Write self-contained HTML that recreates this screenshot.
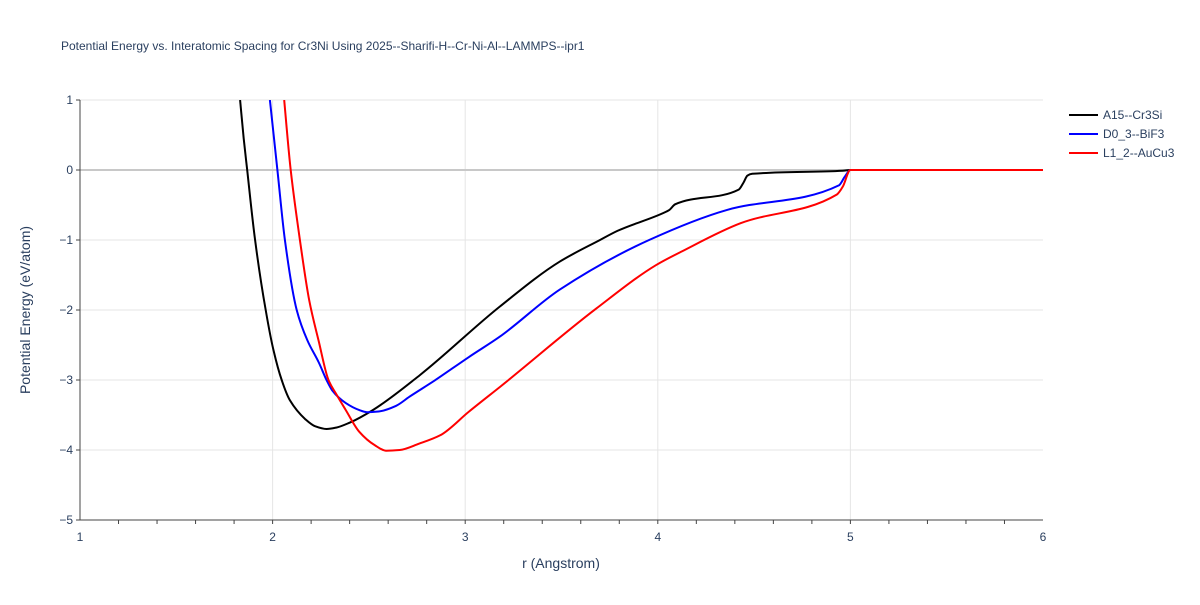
<!DOCTYPE html>
<html><head><meta charset="utf-8"><style>
body{margin:0;background:#fff;font-family:"Liberation Sans",sans-serif}
</style></head><body>
<svg id="chart" width="1200" height="600" xmlns="http://www.w3.org/2000/svg" style="font-family:'Liberation Sans',sans-serif">
<rect width="1200" height="600" fill="#fff"/>
<text x="61" y="50" font-size="12" fill="#2a3f5f">Potential Energy vs. Interatomic Spacing for Cr3Ni Using 2025--Sharifi-H--Cr-Ni-Al--LAMMPS--ipr1</text>
<g id="grid"></g><g id="axes"></g><g id="series"></g>
<text x="561" y="568" font-size="14" fill="#2a3f5f" text-anchor="middle">r (Angstrom)</text>
<text transform="translate(30,310) rotate(-90)" font-size="14" fill="#2a3f5f" text-anchor="middle">Potential Energy (eV/atom)</text>
<g id="legend"></g>
</svg>
<script>
const xTicks=[1,2,3,4,5,6];
const yTicks=[1,0,-1,-2,-3,-4,-5];
const seriesNames=["A15--Cr3Si","D0_3--BiF3","L1_2--AuCu3"];
const seriesColors=["#000000","#0000ff","#ff0000"];
const a15R=[1.831,1.85,1.868,1.909,1.964,2.005,2.047,2.09,2.17,2.22,2.28,2.33,2.40,2.52,2.765,3.18,3.49,3.70,3.79,4.04,4.06,4.09,4.42,4.445,4.465,4.49,4.96,5.0,5.5,6.0];
const a15E=[1,0.45,0,-1,-2,-2.58,-3,-3.29,-3.56,-3.66,-3.7,-3.68,-3.61,-3.43,-2.93,-1.95,-1.31,-1.0,-0.87,-0.6,-0.57,-0.49,-0.28,-0.18,-0.08,-0.055,-0.01,0,0,0];
const d03R=[1.986,2.025,2.064,2.125,2.18,2.24,2.28,2.31,2.38,2.45,2.49,2.55,2.64,2.71,2.84,3.02,3.18,3.49,3.955,4.36,4.94,4.97,5.0,5.5,6.0];
const d03E=[1,0,-1,-2,-2.43,-2.75,-3,-3.15,-3.33,-3.43,-3.46,-3.45,-3.37,-3.24,-3.01,-2.67,-2.38,-1.71,-1.0,-0.57,-0.22,-0.1,0,0,0];
const l12R=[2.06,2.094,2.142,2.19,2.24,2.29,2.33,2.38,2.45,2.53,2.59,2.66,2.76,2.87,3.02,3.18,3.68,3.99,4.12,4.43,4.93,4.96,5.0,5.5,6.0];
const l12E=[1,0,-1,-1.86,-2.45,-3,-3.2,-3.43,-3.74,-3.93,-4.01,-4.0,-3.91,-3.79,-3.45,-3.1,-1.98,-1.36,-1.17,-0.76,-0.35,-0.24,0,0,0];
const X=r=>80+(r-1)*192.6, Y=e=>170-e*70;
const NS="http://www.w3.org/2000/svg";
function mk(tag,attrs,parent){const el=document.createElementNS(NS,tag);for(const k in attrs)el.setAttribute(k,attrs[k]);parent.appendChild(el);return el;}
function monotone(p){
 const n=p.length,dx=[],s=[],m=[];
 for(let i=0;i<n-1;i++){dx[i]=p[i+1][0]-p[i][0];s[i]=(p[i+1][1]-p[i][1])/dx[i];}
 m[0]=s[0];m[n-1]=s[n-2];
 for(let i=1;i<n-1;i++){if(s[i-1]*s[i]<=0)m[i]=0;else{const w1=2*dx[i]+dx[i-1],w2=dx[i]+2*dx[i-1];m[i]=(w1+w2)/(w1/s[i-1]+w2/s[i]);}}
 let d='M'+p[0][0].toFixed(1)+','+p[0][1].toFixed(1);
 for(let i=0;i<n-1;i++){const h=dx[i]/3;
  d+=' C'+(p[i][0]+h).toFixed(1)+','+(p[i][1]+m[i]*h).toFixed(1)+' '+(p[i+1][0]-h).toFixed(1)+','+(p[i+1][1]-m[i+1]*h).toFixed(1)+' '+p[i+1][0].toFixed(1)+','+p[i+1][1].toFixed(1);}
 return d;}
const grid=document.getElementById('grid'),axes=document.getElementById('axes'),ser=document.getElementById('series'),leg=document.getElementById('legend');
xTicks.forEach(t=>{
 if(t>1&&t<6){const g=mk('line',{x1:X(t),x2:X(t),y1:100,y2:520,stroke:'#e5e5e5','stroke-width':1},grid);
 
 }
 const tx=mk('text',{x:X(t),y:541,'font-size':12,fill:'#2a3f5f','text-anchor':'middle'},axes);tx.textContent=t;
 
 
});
for(let r=1.2;r<6;r+=0.2){mk('line',{x1:X(r),x2:X(r),y1:520,y2:524,stroke:'#444'},axes);}
yTicks.forEach(t=>{
 const g=mk('line',{x1:80,x2:1043,y1:Y(t),y2:Y(t),stroke:t===0?'#c8c8c8':'#e5e5e5','stroke-width':t===0?2:1},grid);
 
 
 mk('line',{x1:76,x2:80,y1:Y(t),y2:Y(t),stroke:'#444'},axes);
 const tx=mk('text',{x:73,y:Y(t)+4,'font-size':12,fill:'#2a3f5f','text-anchor':'end'},axes);tx.textContent=t<0?'\u2212'+(-t):t;
 
 
});
const ya=mk('line',{x1:80,x2:80,y1:100,y2:520,stroke:'#444'},axes);


const xa=mk('line',{x1:80,x2:1043,y1:520,y2:520,stroke:'#444'},axes);


const data=[[a15R,a15E],[d03R,d03E],[l12R,l12E]];
const cp=mk('clipPath',{id:'cp'},document.getElementById('chart'));mk('rect',{x:80,y:100,width:963,height:420},cp);
data.forEach((d,i)=>{
 const pts=d[0].map((r,j)=>[X(r),Y(d[1][j])]);
 const p=mk('path',{d:monotone(pts),fill:'none',stroke:seriesColors[i],'stroke-width':2,'clip-path':'url(#cp)','stroke-linejoin':'round'},ser);
 
 
 const y=115+i*19;
 const l=mk('line',{x1:1069,x2:1098,y1:y,y2:y,stroke:seriesColors[i],'stroke-width':2},leg);
 
 
 const t=mk('text',{x:1103,y:y+4,'font-size':12,fill:'#2a3f5f'},leg);t.textContent=seriesNames[i];
 
 
});
</script>
</body></html>
